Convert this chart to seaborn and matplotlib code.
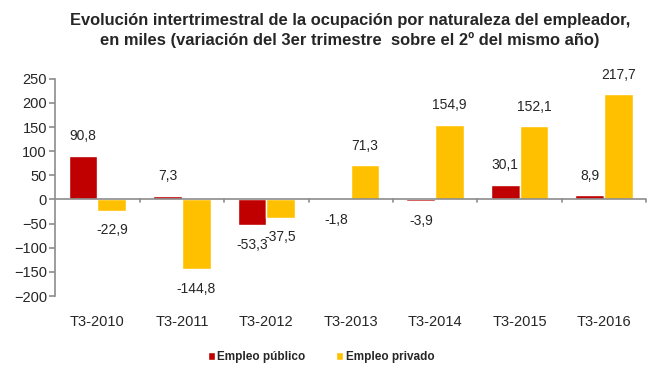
import numpy as np
import pandas as pd
import matplotlib
matplotlib.use('Agg')
import matplotlib.pyplot as plt
import seaborn as sns

periodos = ['T3-2010', 'T3-2011', 'T3-2012', 'T3-2013', 'T3-2014', 'T3-2015', 'T3-2016']
empleo_publico = [90.8, 7.3, -53.3, -1.8, -3.9, 30.1, 8.9]
empleo_privado = [-22.9, -144.8, -37.5, 71.3, 154.9, 152.1, 217.7]
series = ['Empleo público', 'Empleo privado']
colores = ['#C00000', '#FFC000']

df = pd.DataFrame({
    'Periodo': periodos * 2,
    'Serie': [series[0]] * len(periodos) + [series[1]] * len(periodos),
    'Valor': empleo_publico + empleo_privado,
})

sns.set_style('white')
plt.rcParams['font.family'] = ['Liberation Sans', 'DejaVu Sans']

fig = plt.figure(figsize=(6.58, 3.65), dpi=100)
ax = fig.add_axes([0.084, 0.189, 0.898, 0.595])

sns.barplot(data=df, x='Periodo', y='Valor', hue='Serie', palette=colores,
            width=0.68, saturation=1, ax=ax, legend=True)

ax.set_ylim(-200, 250)
ax.set_yticks(np.arange(-200, 251, 50))
ax.set_xlim(-0.5, len(periodos) - 0.5)
ax.set_xlabel('')
ax.set_ylabel('')

gris = '#8C8C8C'
for s in ['top', 'right', 'bottom']:
    ax.spines[s].set_visible(False)
ax.spines['left'].set_color(gris)
ax.spines['left'].set_linewidth(1.2)
ax.axhline(0, color=gris, lw=1.2, zorder=3)
for xb in np.arange(0.5, len(periodos), 1):
    ax.plot([xb, xb], [0, -6], color=gris, lw=1.2, clip_on=False, zorder=3)

ax.tick_params(axis='y', left=True, length=4, color=gris, width=1.2, labelsize=10.5, pad=2)
ax.tick_params(axis='x', bottom=False, labelsize=10.5, pad=10)

for cont in ax.containers:
    labels = [f'{v:.1f}'.replace('.', ',') for v in cont.datavalues]
    ax.bar_label(cont, labels=labels, padding=9, fontsize=10)

leg = ax.legend(loc='upper center', bbox_to_anchor=(0.45, -0.205), ncol=2, frameon=False,
                handlelength=0.6, handleheight=0.6, handletextpad=0.2, columnspacing=2.6,
                prop={'weight': 'bold', 'size': 8.5})

fig.suptitle('Evolución intertrimestral de la ocupación por naturaleza del empleador,\n'
             'en miles (variación del 3er trimestre  sobre el 2º del mismo año)',
             x=0.532, y=0.965, fontsize=11.9, fontweight='bold', linespacing=1.35)

fig.savefig('out.png', dpi=100)
